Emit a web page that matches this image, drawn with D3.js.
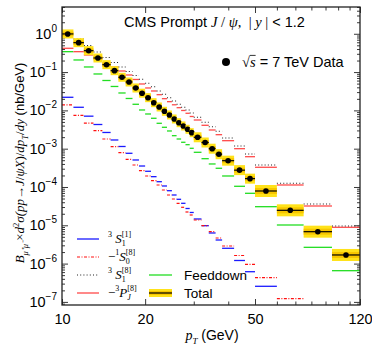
<!DOCTYPE html>
<html>
<head>
<meta charset="utf-8">
<script src="https://cdn.jsdelivr.net/npm/d3@7"></script>
<style>
  body { margin: 0; background: #fff; }
</style>
</head>
<body>
<svg id="chart" width="372" height="346"></svg>
<script>
// pT bin edges (GeV)
const ptEdges = [10, 11, 12, 13, 14, 15, 16, 17, 18, 19, 20, 21, 22, 23, 24, 25, 26, 27, 28, 29, 30,
  32, 34, 36, 38, 42, 46, 50, 60, 75, 95, 120];

// CMS data, nb/GeV
const dataXsec = [0.99, 0.586, 0.362, 0.2334, 0.156, 0.1088, 0.0731, 0.0551, 0.03845, 0.02812,
  0.02146, 0.01589, 0.01227, 0.00947, 0.00758, 0.00596, 0.00477, 0.00392, 0.00321, 0.00262,
  0.001985, 0.001451, 0.001, 0.000718, 0.000486, 0.000275, 0.000165, 7.86e-5, 2.46e-5, 6.81e-6, 1.68e-6];

// total prediction band
const totalLow = [0.755, 0.447, 0.276, 0.178, 0.119, 0.083, 0.0558, 0.042, 0.0293, 0.02145,
  0.01637, 0.01212, 0.00936, 0.00722, 0.00578, 0.00455, 0.00364, 0.00299, 0.00245, 0.002,
  0.00147, 0.001074, 0.00074, 0.000531, 0.00036, 0.000204, 0.000122, 5.48e-5, 1.715e-5, 4.75e-6, 1.17e-6];
const totalHigh = [1.30, 0.768, 0.475, 0.306, 0.2045, 0.1426, 0.0958, 0.0722, 0.0504, 0.03687,
  0.02813, 0.02083, 0.01609, 0.01241, 0.00994, 0.00781, 0.00625, 0.00514, 0.00421, 0.00343,
  0.00268, 0.00196, 0.00135, 0.00097, 0.000657, 0.000372, 0.000223, 1.127e-4, 3.53e-5, 9.77e-6, 2.41e-6];

// channel contributions
const s1Singlet = [0.02198, 0.01205, 0.00706, 0.00428, 0.00265, 0.001687, 0.001141, 0.000758, 0.000507, 0.000353,
  0.000257, 0.000186, 0.0001375, 0.0001062, 8.0e-5, 6.18e-5, 4.77e-5, 3.75e-5, 2.745e-5, 2.16e-5,
  1.461e-5, 9.76e-6, 6.30e-6, 4.13e-6, 2.51e-6, 1.205e-6, 6.14e-7, 2.555e-7, null, null, null];
const s0Octet = [0.01384, 0.00745, 0.004633, 0.00295, 0.00179, 0.001128, 0.000786, 0.000529, 0.000375, 0.0002665,
  0.0001937, 0.000146, 0.0001128, 8.35e-5, 6.18e-5, 4.86e-5, 3.75e-5, 2.95e-5, 2.225e-5, 1.858e-5,
  1.375e-5, 9.76e-6, 6.81e-6, 4.66e-6, 2.88e-6, 1.627e-6, 9.59e-7, 4.28e-7, 1.213e-7, null, null];
const s1Octet = [1.18, 0.731, 0.489, 0.3348, 0.2405, 0.1781, 0.1359, 0.1037, 0.0815, 0.0649,
  0.051, 0.04157, 0.0321, 0.02633, 0.02146, 0.0176, 0.01443, 0.01205, 0.01024, 0.00855,
  0.0066, 0.00489, 0.003753, 0.002846, 0.0019, 0.001176, 0.000727, 0.000375, 0.0001249, 3.6e-5, 9.59e-6];
const pjOctet = [0.418, 0.341, 0.2796, 0.2265, 0.1728, 0.1359, 0.1068, 0.084, 0.0641, 0.0489,
  0.03845, 0.0321, 0.0257, 0.0202, 0.01688, 0.014, 0.01176, 0.00994, 0.0084, 0.00693,
  0.00561, 0.00408, 0.003077, 0.00232, 0.001618, 0.001, 0.000618, 0.000327, 0.0001128, 3.19e-5, 8.87e-6];
const feeddown = [0.341, 0.207, 0.1359, 0.0892, 0.0603, 0.0421, 0.02846, 0.02045, 0.01443, 0.01024,
  0.00805, 0.00622, 0.0046, 0.00362, 0.0029, 0.002185, 0.00179, 0.00147, 0.001272, 0.001024,
  0.000805, 0.000548, 0.000399, 0.000308, 0.0001937, 0.0001043, 6.84e-5, 3.06e-5, 1.018e-5, 2.66e-6, 6.53e-7];

const xTickLabels = [10, 20, 50, 120];
const xMinorTicks = [30, 40, 60, 70, 80, 90, 100, 110];
const yTickExps = [0, -1, -2, -3, -4, -5, -6, -7];

const SANS = "'Liberation Sans', Arial, sans-serif";
const SERIF = "'Liberation Serif', 'Times New Roman', serif";

const svg = d3.select("#chart");
const mLeft = 62, mRight = 360, mTop = 7, mBottom = 305;

const x = d3.scaleLog().domain([10, 120]).range([mLeft, mRight]);
const y = d3.scaleLog().domain([8.3e-8, 5]).range([mBottom, mTop]);

// rich text in one <text>: parts laid out one after another, "back" stacks on the previous part
function rich(parent, parts, opt) {
  const g = parent.append("g");
  const text = g.append("text").style("white-space", "pre").attr("fill", "#000");
  let cx = 0, lastStart = 0;
  parts.forEach((p) => {
    const size = p.size || opt.size;
    const start = p.back ? lastStart : cx;
    const t = text.append("tspan")
      .attr("x", start)
      .attr("y", p.dy || 0)
      .attr("font-family", p.f === "s" ? SANS : SERIF)
      .attr("font-style", p.f === "i" ? "italic" : "normal")
      .attr("font-size", size)
      .text(p.t);
    const w = t.node().getComputedTextLength();
    if (p.over) {
      g.append("line").attr("x1", start).attr("x2", start + w)
        .attr("y1", -size * 0.8).attr("y2", -size * 0.8)
        .attr("stroke", "#000").attr("stroke-width", 0.8);
    }
    if (p.back) cx = Math.max(cx, start + w);
    else { lastStart = start; cx += w; }
  });
  const ox = opt.anchor === "end" ? -cx : opt.anchor === "middle" ? -cx / 2 : 0;
  g.attr("transform",
    `translate(${opt.x},${opt.y})` + (opt.rotate ? ` rotate(${opt.rotate})` : "") + ` translate(${ox},0)`);
  return g;
}

// minor decade ticks
const yMinor = [];
for (let e = -8; e <= 0; e++) for (let k = 2; k <= 9; k++) {
  const v = k * Math.pow(10, e);
  if (v >= y.domain()[0] && v <= y.domain()[1]) yMinor.push(v);
}
const yMajor = yTickExps.map((e) => Math.pow(10, e));

const axes = svg.append("g").attr("class", "axes");
const tickStyle = (sel) => {
  sel.select(".domain").remove();
  sel.selectAll("line").attr("stroke", "#222").attr("stroke-width", 0.9);
};
axes.append("g").attr("transform", `translate(0,${mBottom})`)
  .call(d3.axisBottom(x).tickValues(xTickLabels).tickSize(-6).tickPadding(9).tickFormat(d3.format("d")))
  .call(tickStyle)
  .call((g) => g.selectAll("text").attr("font-family", SANS).attr("font-size", 14.5).attr("fill", "#000"));
axes.append("g").attr("transform", `translate(0,${mBottom})`)
  .call(d3.axisBottom(x).tickValues(xMinorTicks).tickSize(-3.5).tickFormat(""))
  .call(tickStyle);
axes.append("g").attr("transform", `translate(0,${mTop})`)
  .call(d3.axisTop(x).tickValues(xTickLabels).tickSize(-6).tickFormat(""))
  .call(tickStyle);
axes.append("g").attr("transform", `translate(0,${mTop})`)
  .call(d3.axisTop(x).tickValues(xMinorTicks).tickSize(-3.5).tickFormat(""))
  .call(tickStyle);
axes.append("g").attr("transform", `translate(${mLeft},0)`)
  .call(d3.axisLeft(y).tickValues(yMajor).tickSize(-6).tickFormat(""))
  .call(tickStyle);
axes.append("g").attr("transform", `translate(${mLeft},0)`)
  .call(d3.axisLeft(y).tickValues(yMinor).tickSize(-3).tickFormat(""))
  .call(tickStyle);
axes.append("g").attr("transform", `translate(${mRight},0)`)
  .call(d3.axisRight(y).tickValues(yMajor).tickSize(-6).tickFormat(""))
  .call(tickStyle);
axes.append("g").attr("transform", `translate(${mRight},0)`)
  .call(d3.axisRight(y).tickValues(yMinor).tickSize(-3).tickFormat(""))
  .call(tickStyle);

yTickExps.forEach((e) => {
  rich(svg, [
    { t: "10", f: "s", size: 14.5 },
    { t: e === 0 ? "0" : "\u2212" + Math.abs(e), f: "s", size: 10, dy: -7 }
  ], { x: mLeft - 5, y: y(Math.pow(10, e)) + 5, anchor: "end" });
});

// channel segments
const bins = dataXsec.map((d, i) => ({ lo: ptEdges[i], hi: ptEdges[i + 1] }));
const series = [
  { vals: feeddown, color: "#22dd22", dash: null, w: 1.3 },
  { vals: s1Singlet, color: "#1a1aff", dash: null, w: 1.3 },
  { vals: s0Octet, color: "#ff1010", dash: "3,1.5,1,1.5", w: 1.2 },
  { vals: pjOctet, color: "#ff4a4a", dash: null, w: 1.3 },
  { vals: s1Octet, color: "#222", dash: "1,2.2", w: 1.1 }
];
const plot = svg.append("g");
series.forEach((s) => {
  plot.append("g").selectAll("line")
    .data(bins.map((b, i) => ({ ...b, v: s.vals[i] })).filter((d) => d.v != null))
    .enter().append("line")
    .attr("x1", (d) => x(d.lo)).attr("x2", (d) => x(d.hi))
    .attr("y1", (d) => y(d.v)).attr("y2", (d) => y(d.v))
    .attr("stroke", s.color).attr("stroke-width", s.w)
    .attr("stroke-dasharray", s.dash);
});

// total band + data
const boxes = plot.append("g").selectAll("g")
  .data(bins.map((b, i) => ({ ...b, v: dataXsec[i], lo2: totalLow[i], hi2: totalHigh[i] })))
  .enter().append("g");
boxes.append("rect")
  .attr("x", (d) => x(d.lo)).attr("width", (d) => x(d.hi) - x(d.lo))
  .attr("y", (d) => y(d.hi2)).attr("height", (d) => y(d.lo2) - y(d.hi2))
  .attr("fill", "#ffe21a");
boxes.append("rect")
  .attr("x", (d) => x(d.lo)).attr("width", (d) => x(d.hi) - x(d.lo))
  .attr("y", (d) => (y(d.hi2) + y(d.v)) / 2).attr("height", (d) => (y(d.lo2) - y(d.hi2)) / 2)
  .attr("fill", "#f7c600");
boxes.append("line")
  .attr("x1", (d) => x(d.lo)).attr("x2", (d) => x(d.hi))
  .attr("y1", (d) => y(d.v)).attr("y2", (d) => y(d.v))
  .attr("stroke", "#000").attr("stroke-width", 1.2);
boxes.append("circle")
  .attr("cx", (d) => x(Math.sqrt(d.lo * d.hi)))
  .attr("cy", (d) => y(d.v))
  .attr("r", 2.8).attr("fill", "#000");

// frame
svg.append("rect").attr("x", mLeft).attr("y", mTop)
  .attr("width", mRight - mLeft).attr("height", mBottom - mTop)
  .attr("fill", "none").attr("stroke", "#222").attr("stroke-width", 1.3);

// title & data key
rich(svg, [
  { t: "CMS Prompt ", f: "s" }, { t: "J", f: "i" }, { t: " / ", f: "r" }, { t: "\u03C8", f: "i" },
  { t: ",  | ", f: "r" }, { t: "y", f: "i" }, { t: " |", f: "r" }, { t: " < 1.2", f: "s" }
], { x: 124, y: 27, size: 14.5 });
svg.append("circle").attr("cx", 226).attr("cy", 62).attr("r", 4).attr("fill", "#000");
rich(svg, [
  { t: "\u221A", f: "r" }, { t: "s", f: "i", over: true }, { t: " = 7 TeV Data", f: "s" }
], { x: 242, y: 67, size: 14.5 });

// legend
const SUP = { size: 8, dy: -6 }, SUB = { size: 8, dy: 3 };
const legendItems = [
  { color: "#1a1aff", dash: null, w: 1.3,
    label: [{ t: "3", f: "r", ...SUP }, { t: " S", f: "i" }, { t: "1", f: "r", ...SUB }, { t: "[1]", f: "r", ...SUP, back: true }] },
  { color: "#ff1010", dash: "3,1.5,1,1.5", w: 1.2,
    label: [{ t: "\u2212", f: "r" }, { t: "1", f: "r", ...SUP }, { t: "S", f: "i" }, { t: "0", f: "r", ...SUB }, { t: "[8]", f: "r", ...SUP, back: true }] },
  { color: "#222", dash: "1,2.2", w: 1.1,
    label: [{ t: "3", f: "r", ...SUP }, { t: " S", f: "i" }, { t: "1", f: "r", ...SUB }, { t: "[8]", f: "r", ...SUP, back: true }] },
  { color: "#ff4a4a", dash: null, w: 1.3,
    label: [{ t: "\u2212", f: "r" }, { t: "3", f: "r", ...SUP }, { t: "P", f: "i" }, { t: "J", f: "i", ...SUB }, { t: "[8]", f: "r", ...SUP, back: true }] }
];
const legend = svg.append("g");
legendItems.forEach((d, i) => {
  const ly = 239 + i * 18;
  legend.append("line").attr("x1", 77).attr("x2", 99).attr("y1", ly).attr("y2", ly)
    .attr("stroke", d.color).attr("stroke-width", d.w).attr("stroke-dasharray", d.dash);
  rich(legend, d.label, { x: 108, y: ly + 3.5, size: 13 });
});
legend.append("line").attr("x1", 149).attr("x2", 172).attr("y1", 275).attr("y2", 275)
  .attr("stroke", "#22dd22").attr("stroke-width", 1.3);
rich(legend, [{ t: "Feeddown", f: "s" }], { x: 184, y: 280, size: 13.5 });
legend.append("rect").attr("x", 149).attr("y", 289).attr("width", 23).attr("height", 8).attr("fill", "#ffe21a");
legend.append("rect").attr("x", 149).attr("y", 291).attr("width", 23).attr("height", 4).attr("fill", "#f7c600");
legend.append("line").attr("x1", 149).attr("x2", 172).attr("y1", 293).attr("y2", 293)
  .attr("stroke", "#000").attr("stroke-width", 1.2);
rich(legend, [{ t: "Total", f: "s" }], { x: 184, y: 298, size: 13.5 });

// axis titles
rich(svg, [{ t: "p", f: "i" }, { t: "T", f: "i", size: 9, dy: 3.5 }, { t: " (GeV)", f: "s" }],
  { x: 212, y: 340, size: 14, anchor: "middle" });
rich(svg, [
  { t: "B", f: "i" }, { t: "\u03BC\u207A\u03BC\u207B", f: "i", size: 8.5, dy: 3.5 },
  { t: "\u00D7", f: "r" }, { t: "d", f: "i" }, { t: "2", f: "r", size: 8.5, dy: -5.5 },
  { t: "\u03C3(", f: "i" }, { t: "pp", f: "i" }, { t: "\u2192", f: "r" }, { t: "J", f: "i" },
  { t: "/", f: "r" }, { t: "\u03C8", f: "i" }, { t: "X", f: "i" }, { t: ")/", f: "r" },
  { t: "dp", f: "i" }, { t: "T", f: "i", size: 8.5, dy: 3.5 }, { t: "/", f: "r" }, { t: "dy", f: "i" },
  { t: " (nb/GeV)", f: "s" }
], { x: 24, y: 163, size: 13, anchor: "middle", rotate: -90 });
</script>
</body>
</html>
